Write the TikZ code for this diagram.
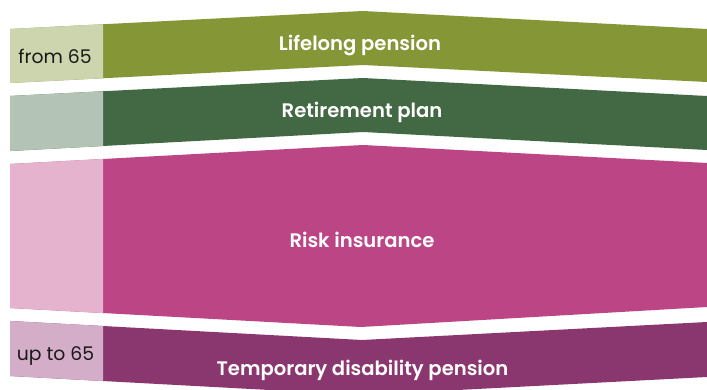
\documentclass[tikz,border=0pt]{standalone}
\usepackage{fontspec}
\setmainfont{Poppins}
\newfontfamily\semib{Poppins SemiBold}
\definecolor{oliveD}{HTML}{859636}
\definecolor{oliveL}{HTML}{CDD5AF}
\definecolor{greenD}{HTML}{436944}
\definecolor{greenL}{HTML}{B3C3B5}
\definecolor{pinkD}{HTML}{BC4586}
\definecolor{pinkL}{HTML}{E6B3CF}
\definecolor{plumD}{HTML}{8B376F}
\definecolor{plumL}{HTML}{D4AEC9}
\tikzset{
  title/.style={anchor=base, inner sep=0pt, text=white, font=\fontsize{19.6}{22}\semib},
  age/.style={anchor=base, inner sep=0pt, text=black!90, font=\fontsize{18.8}{22}\selectfont}
}
\newcommand{\band}[4]{%
  \fill[#1] #3;
  \begin{scope}
    \clip (0,0) rectangle (103,400);
    \fill[#2] #3;
  \end{scope}
}
\begin{document}
\begin{tikzpicture}[x=1pt,y=-1pt]
\useasboundingbox (0,0) rectangle (707,390);
\clip (0,0) rectangle (707,390);
\fill[white] (0,0) rectangle (707,390);
\band{oliveD}{oliveL}{(10,29) -- (363,11) -- (707,29) -- (707,82) -- (363,65) -- (10,83) -- cycle}{}
\band{greenD}{greenL}{(10,96) -- (363,78) -- (707,96) -- (707,150) -- (363,132) -- (10,151) -- cycle}{}
\band{pinkD}{pinkL}{(10,164) -- (363,145) -- (707,163) -- (707,307) -- (361,327) -- (10,308) -- cycle}{}
\band{plumD}{plumL}{(10,321) -- (362,340) -- (707,322) -- (707,377) -- (362,395) -- (10,376) -- cycle}{}
\node[title] (t1) at (360,50.7) {Lifelong pension};
\node[title] (t2) at (362,117.3) {Retirement plan};
\node[title] (t3) at (362,247.3) {Risk insurance};
\node[title] (t4) at (362.5,375.7) {Temporary disability pension};
\node[age] (a1) at (55,64) {from 65};
\node[age] (a2) at (55.5,360.5) {up to 65};
\end{tikzpicture}
\end{document}
